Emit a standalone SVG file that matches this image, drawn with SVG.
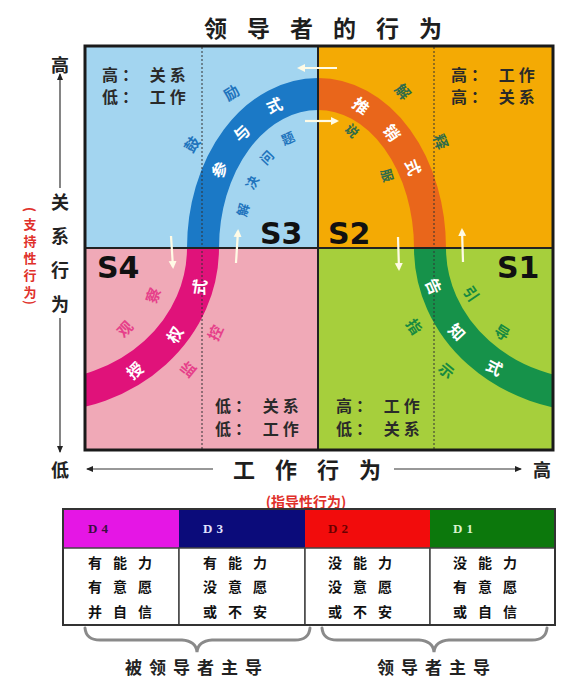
<svg xmlns="http://www.w3.org/2000/svg" width="576" height="678" viewBox="0 0 576 678">
<style>
text{font-family:"Noto Sans CJK SC","Noto Sans",sans-serif;font-weight:bold}
.ttl{font-size:23px;fill:#1e1e1e;letter-spacing:20px}
.q{font-size:16px;fill:#2a2a2a;letter-spacing:4px}
.sl{font-family:"DejaVu Sans",sans-serif;font-size:30px;fill:#111;font-weight:bold}
.bt{font-size:16px;fill:#ffffff}
.band{fill:none;stroke-width:32}
.ax{stroke:#333;stroke-width:1.2;fill:none;marker-end:url(#bk)}
.wa{stroke:#fffbe6;stroke-width:2.2;fill:none;marker-end:url(#wh)}
.dot{stroke:#333;stroke-width:1;stroke-dasharray:2 2}
.mid{stroke:#222;stroke-width:2}
.cell{font-size:14px;fill:#111;letter-spacing:11px}
.hd{font-family:"Liberation Serif",serif;font-size:13px;letter-spacing:4px}
.br{fill:none;stroke:#8a8a8a;stroke-width:3;stroke-linecap:round}
</style>
<defs>
<marker id="wh" markerWidth="9" markerHeight="9" refX="6" refY="4.5" orient="auto" markerUnits="userSpaceOnUse"><path d="M0,0.5 L8,4.5 L0,8.5 z" fill="#fffbe6"/></marker>
<marker id="bk" markerWidth="7" markerHeight="7" refX="6" refY="3.5" orient="auto" markerUnits="userSpaceOnUse"><path d="M0,0.5 L7,3.5 L0,6.5 z" fill="#222"/></marker>
<clipPath id="c3"><rect x="85" y="46" width="233" height="202"/></clipPath>
<clipPath id="c2"><rect x="318" y="46" width="235" height="202"/></clipPath>
<clipPath id="c4"><rect x="85" y="248" width="233" height="202"/></clipPath>
<clipPath id="c1"><rect x="318" y="248" width="235" height="202"/></clipPath>
<path id="bandp" d="M40,396 A163 148 0 0 0 203,248 A115 154 0 0 1 318,94 A112 154 0 0 1 430,248 A166 148 0 0 0 596,396"/>
<path id="p3c" d="M213.8,182.9 A115 154 0 0 1 288.2,99.2"/>
<path id="p3o" d="M177,183.4 A150 189 0 0 1 266.7,70.4"/>
<path id="p3i" d="M239.2,227.3 A80 119 0 0 1 304.1,130.8"/>
<path id="p2c" d="M347,99.2 A112 154 0 0 1 419.5,182.9"/>
<path id="p2o" d="M380.5,75.8 A148 190 0 0 1 461,198.8"/>
<path id="p2i" d="M336.9,125.2 A84 126 0 0 1 399.1,215.4"/>
<path id="p4c" d="M108.9,382.1 A163 148 0 0 0 202.7,258.3"/>
<path id="p4o" d="M101.5,341.5 A123 108 0 0 0 160.3,270.5"/>
<path id="p4i" d="M166,386.7 A196 181 0 0 0 225.3,306.9"/>
<path id="p1c" d="M430.6,260.9 A166 148 0 0 0 518.1,378.7"/>
<path id="p1o" d="M467,275.8 A133 115 0 0 0 517.8,341"/>
<path id="p1i" d="M403,291.8 A199 181 0 0 0 476.2,392.6"/>
</defs>
<rect width="576" height="678" fill="#ffffff"/>
<text class="ttl" x="204" y="37">领导者的行为</text>

<g id="s3">
<rect x="85" y="46" width="233" height="202" fill="#a3d5f0"/>
<use href="#bandp" class="band" stroke="#1b79c6" clip-path="url(#c3)"/>
</g>
<g id="s2">
<rect x="318" y="46" width="235" height="202" fill="#f4aa04"/>
<use href="#bandp" class="band" stroke="#e9661b" clip-path="url(#c2)"/>
</g>
<g id="s4">
<rect x="85" y="248" width="233" height="202" fill="#f0a9b7"/>
<use href="#bandp" class="band" stroke="#e0127a" clip-path="url(#c4)"/>
</g>
<g id="s1">
<rect x="318" y="248" width="235" height="202" fill="#a6cf3c"/>
<use href="#bandp" class="band" stroke="#16924a" clip-path="url(#c1)"/>
</g>

<g id="guides">
<line class="dot" x1="202" y1="47" x2="202" y2="449"/>
<line class="dot" x1="434" y1="47" x2="434" y2="449"/>
<line class="mid" x1="318" y1="46" x2="318" y2="450"/>
<line class="mid" x1="85" y1="248" x2="553" y2="248"/>
</g>

<g id="s3-labels">
<text class="q" x="102" y="81">高： 关系</text>
<text class="q" x="102" y="103">低： 工作</text>
<text class="sl" x="260" y="244">S3</text>
<text class="bt" dominant-baseline="central" text-anchor="middle" dx="13" style="letter-spacing:27px"><textPath href="#p3c" startOffset="50%">参与式</textPath></text>
<text dominant-baseline="central" text-anchor="middle" dx="25" style="font-size:15px;fill:#1f74bd;letter-spacing:50px"><textPath href="#p3o" startOffset="50%">鼓励</textPath></text>
<text dominant-baseline="central" text-anchor="middle" dx="8" style="font-size:13px;fill:#1f74bd;letter-spacing:16px"><textPath href="#p3i" startOffset="50%">解决问题</textPath></text>
</g>
<g id="s2-labels">
<text class="q" x="451" y="81">高： 工作</text>
<text class="q" x="451" y="103">高： 关系</text>
<text class="sl" x="328" y="244">S2</text>
<text class="bt" dominant-baseline="central" text-anchor="middle" dx="12" style="letter-spacing:25px"><textPath href="#p2c" startOffset="50%">推销式</textPath></text>
<text dominant-baseline="central" style="font-size:15px;fill:#2f6b4a;letter-spacing:48px"><textPath href="#p2o" startOffset="20">解释</textPath></text>
<text dominant-baseline="central" style="font-size:13px;fill:#2f6b4a;letter-spacing:44px"><textPath href="#p2i" startOffset="9">说服</textPath></text>
</g>
<g id="s4-labels">
<text class="q" x="215" y="412">低： 关系</text>
<text class="q" x="215" y="435">低： 工作</text>
<text class="sl" x="97" y="278">S4</text>
<text class="bt" dominant-baseline="central" text-anchor="middle" dx="18" style="letter-spacing:37px"><textPath href="#p4c" startOffset="50%">授权式</textPath></text>
<text dominant-baseline="central" text-anchor="middle" dx="14" style="font-size:15px;fill:#e6408a;letter-spacing:28px"><textPath href="#p4o" startOffset="50%">观察</textPath></text>
<text dominant-baseline="central" text-anchor="middle" dx="15" style="font-size:15px;fill:#e6408a;letter-spacing:30px"><textPath href="#p4i" startOffset="50%">监控</textPath></text>
</g>
<g id="s1-labels">
<text class="q" x="336" y="412">高： 工作</text>
<text class="q" x="336" y="435">低： 关系</text>
<text class="sl" x="497" y="278">S1</text>
<text class="bt" dominant-baseline="central" text-anchor="middle" dx="17" style="letter-spacing:35px"><textPath href="#p1c" startOffset="50%">告知式</textPath></text>
<text dominant-baseline="central" text-anchor="middle" dx="17" style="font-size:15px;fill:#178a40;letter-spacing:34px"><textPath href="#p1o" startOffset="50%">引导</textPath></text>
<text dominant-baseline="central" text-anchor="middle" dx="19" style="font-size:15px;fill:#178a40;letter-spacing:39px"><textPath href="#p1i" startOffset="50%">指示</textPath></text>
</g>

<g id="connectors">
<line class="wa" x1="337" y1="68" x2="299" y2="68"/>
<line class="wa" x1="305" y1="121" x2="337" y2="121"/>
<line class="wa" x1="171" y1="236" x2="173" y2="267"/>
<line class="wa" x1="236" y1="263" x2="238" y2="231"/>
<line class="wa" x1="398" y1="237" x2="399" y2="269"/>
<line class="wa" x1="463" y1="262" x2="462" y2="230"/>
<line class="ax" x1="60" y1="188" x2="60" y2="74"/>
<line class="ax" x1="60" y1="318" x2="60" y2="452"/>
<line class="ax" x1="213" y1="469" x2="87" y2="469"/>
<line class="ax" x1="394" y1="469" x2="521" y2="469"/>
</g>

<rect x="85" y="46" width="468" height="404" fill="none" stroke="#1a1a1a" stroke-width="3"/>

<g id="axes">
<text x="60" y="72" text-anchor="middle" style="font-size:18px;fill:#222">高</text>
<text x="60" y="193" style="font-size:18px;fill:#222;writing-mode:vertical-rl;letter-spacing:16px">关系行为</text>
<text x="25.3 23.5 23.5 23.5 23.5 23.5 25.3" y="207 229 246 263 280 297 300" rotate="90 0 0 0 0 0 90" style="font-size:13px;fill:#e0302a">(支持性行为)</text>
<text x="60" y="477" text-anchor="middle" style="font-size:18px;fill:#222">低</text>
<text x="233" y="478" style="font-size:22px;fill:#1e1e1e;letter-spacing:20px">工作行为</text>
<text x="542" y="477" text-anchor="middle" style="font-size:18px;fill:#222">高</text>
<text x="306" y="507" text-anchor="middle" style="font-size:14px;fill:#e0302a">(指导性行为)</text>
</g>

<g id="d4">
<rect x="63" y="509" width="116" height="39" fill="#e516e5"/>
<rect x="63" y="548" width="116" height="77" fill="#fff" stroke="#444" stroke-width="1.5"/>
<text class="hd" x="88" y="533" fill="#3a0f40">D4</text>
<text class="cell" x="88" y="568">有能力</text>
<text class="cell" x="88" y="592">有意愿</text>
<text class="cell" x="88" y="617">并自信</text>
</g>
<g id="d3">
<rect x="179" y="509" width="126" height="39" fill="#0b0b7a"/>
<rect x="179" y="548" width="126" height="77" fill="#fff" stroke="#444" stroke-width="1.5"/>
<text class="hd" x="203" y="533" fill="#e4e4ff">D3</text>
<text class="cell" x="203" y="568">有能力</text>
<text class="cell" x="203" y="592">没意愿</text>
<text class="cell" x="203" y="617">或不安</text>
</g>
<g id="d2">
<rect x="305" y="509" width="125" height="39" fill="#f20c0c"/>
<rect x="305" y="548" width="125" height="77" fill="#fff" stroke="#444" stroke-width="1.5"/>
<text class="hd" x="328" y="533" fill="#6a0000">D2</text>
<text class="cell" x="328" y="568">没能力</text>
<text class="cell" x="328" y="592">没意愿</text>
<text class="cell" x="328" y="617">或不安</text>
</g>
<g id="d1">
<rect x="430" y="509" width="125" height="39" fill="#0c780c"/>
<rect x="430" y="548" width="125" height="77" fill="#fff" stroke="#444" stroke-width="1.5"/>
<text class="hd" x="453" y="533" fill="#dcf4d0">D1</text>
<text class="cell" x="453" y="568">没能力</text>
<text class="cell" x="453" y="592">有意愿</text>
<text class="cell" x="453" y="617">或自信</text>
</g>
<rect x="63" y="509" width="492" height="116" fill="none" stroke="#333" stroke-width="2"/>

<g id="braces">
<path class="br" d="M85,628 Q86,640 100,640 L182,640 Q196,641 197,652 Q198,641 212,640 L295,640 Q309,640 310,628"/>
<path class="br" d="M322,628 Q323,640 337,640 L419,640 Q433,641 434,652 Q435,641 449,640 L532,640 Q546,640 547,628"/>
<text x="197" y="674" text-anchor="middle" style="font-size:17px;fill:#222;letter-spacing:7px">被领导者主导</text>
<text x="437" y="674" text-anchor="middle" style="font-size:17px;fill:#222;letter-spacing:7px">领导者主导</text>
</g>
</svg>
